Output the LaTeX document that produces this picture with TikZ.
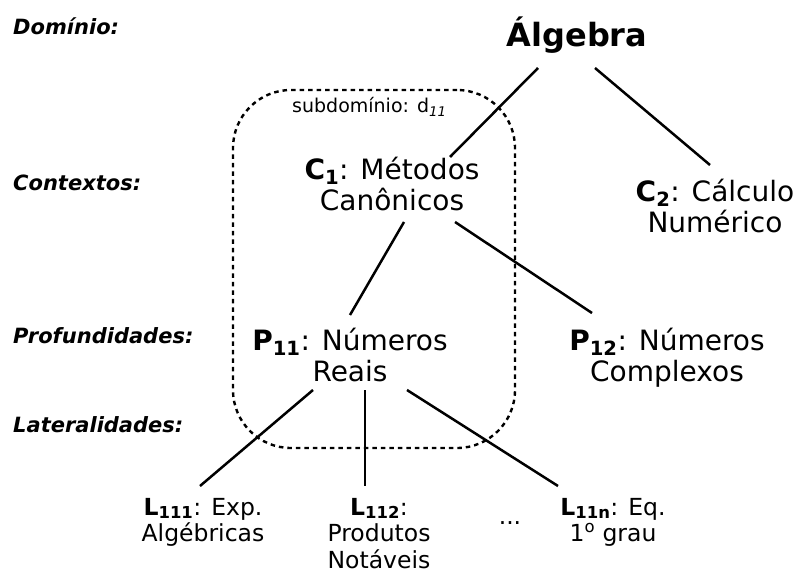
\documentclass[tikz,border=0pt]{standalone}
\usepackage{fontspec}
\setmainfont{DejaVu Sans}
\usetikzlibrary{calc}
\newcommand{\mlines}[1]{\begin{tabular}[t]{@{}c@{}}#1\end{tabular}}
\begin{document}
\begin{tikzpicture}[x=1pt,y=-1pt,
  conn/.style={line width=2.5pt},
  lvl/.style={anchor=base west, inner sep=0pt, font=\fontsize{21}{24}\selectfont\bfseries\itshape},
  big/.style={anchor=base, inner sep=0pt, font=\fontsize{28}{31}\selectfont},
  small/.style={anchor=base, inner sep=0pt, font=\fontsize{23.5}{26.5}\selectfont},
  subbox/.style={draw, line width=2.4pt, dash pattern=on 4.5pt off 4pt, rounded corners=58pt, inner sep=0pt}]
\useasboundingbox (0,0) rectangle (803,575);
% level labels
\node[lvl] (ldom) at (13,35) {Domínio:};
\node[lvl] (lctx) at (13,190) {Contextos:};
\node[lvl] (lprof) at (13,343) {Profundidades:};
\node[lvl] (llat) at (13,432) {Lateralidades:};
% subdomain box
\node[subbox, minimum width=282pt, minimum height=358pt] (d11) at (374,269) {};
\node[anchor=base west, inner sep=0pt, font=\fontsize{19}{22}\selectfont] (sub) at (292,113) {subdomínio: d\textsubscript{\itshape 11}};
% nodes
\node[anchor=base, inner sep=0pt, font=\fontsize{32}{36}\selectfont\bfseries] (alg) at (577,47) {Álgebra};
\node[big] (c1) at (392,179) {\mlines{\textbf{C}\textsubscript{\bfseries 1}: Métodos\\Canônicos}};
\node[big] (c2) at (715,201) {\mlines{\textbf{C}\textsubscript{\bfseries 2}: Cálculo\\Numérico}};
\node[big] (p11) at (350,350) {\mlines{\textbf{P}\textsubscript{\bfseries 11}: Números\\Reais}};
\node[big] (p12) at (667,350) {\mlines{\textbf{P}\textsubscript{\bfseries 12}: Números\\Complexos}};
\node[small] (l111) at (203,515) {\mlines{\textbf{L}\textsubscript{\bfseries 111}: Exp.\\Algébricas}};
\node[small] (l112) at (379,515) {\mlines{\textbf{L}\textsubscript{\bfseries 112}:\\Produtos\\Notáveis}};
\node[small] (dots) at (510,524) {...};
\node[small] (l11n) at (613,515) {\mlines{\textbf{L}\textsubscript{\bfseries 11n}: Eq.\\1\textsuperscript{o} grau}};
% connectors
\draw[conn] ($(alg.base)+(-39,21)$) -- ($(c1.base)+(58,-22)$);
\draw[conn] ($(alg.base)+(18,21)$) -- ($(c2.base)+(-5,-36)$);
\draw[conn] ($(c1.base)+(12,43)$) -- ($(p11.base)+(0,-35)$);
\draw[conn] ($(c1.base)+(63,43)$) -- ($(p12.base)+(-75,-37)$);
\draw[conn] ($(p11.base)+(-37,40)$) -- ($(l111.base)+(-3,-29)$);
\draw[conn] ($(p11.base)+(15,40)$) -- ($(l112.base)+(-14,-29)$);
\draw[conn] ($(p11.base)+(57,40)$) -- ($(l11n.base)+(-55,-29)$);
\end{tikzpicture}
\end{document}
